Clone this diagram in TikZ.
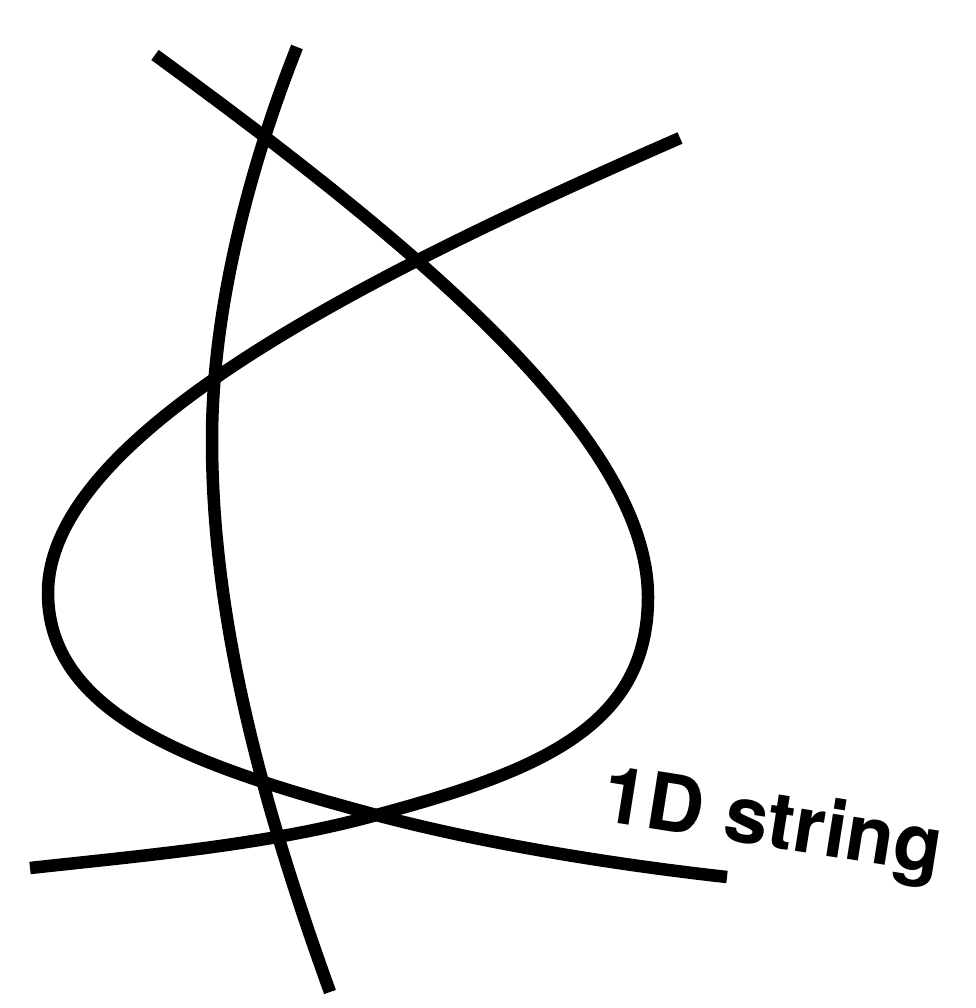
\documentclass[tikz,border=0pt]{standalone}
\usepackage{fontspec}
\setmainfont{TeX Gyre Heros}
\begin{document}
\begin{tikzpicture}[x=1pt,y=-1pt,
  stringline/.style={line width=12.5pt,black},
  lbl/.style={font=\bfseries\fontsize{79}{94}\selectfont,anchor=base,rotate=-9,inner sep=0pt}]
\useasboundingbox (0,0) rectangle (975,1008);
% string X: top-left, loop on the right, ends bottom-left
\coordinate (xa) at (155,55);
\coordinate (xb) at (648,597);
\coordinate (xc) at (380,814);
\coordinate (xd) at (30,868);
\draw[stringline] (xa) .. controls (414,244) and (648,437) .. (xb)
  .. controls (648,725) and (543,770) .. (xc)
  .. controls (274,844) and (149,855) .. (xd);
% string Y: top-right, loop on the left, ends bottom-right
\coordinate (ya) at (680,138);
\coordinate (yb) at (48,593);
\coordinate (yc) at (380,816);
\coordinate (yd) at (727,877);
\draw[stringline] (ya) .. controls (376,271) and (48,432) .. (yb)
  .. controls (48,720) and (209,770) .. (yc)
  .. controls (486,844) and (618,865) .. (yd);
% string Z: nearly vertical
\coordinate (za) at (297,47);
\coordinate (zb) at (212,440);
\coordinate (zc) at (330,992);
\draw[stringline] (za) .. controls (249,168) and (212,310) .. (zb)
  .. controls (212,620) and (262,804) .. (zc);
\node[lbl] (label) at (769,847) {1D string};
\end{tikzpicture}
\end{document}
